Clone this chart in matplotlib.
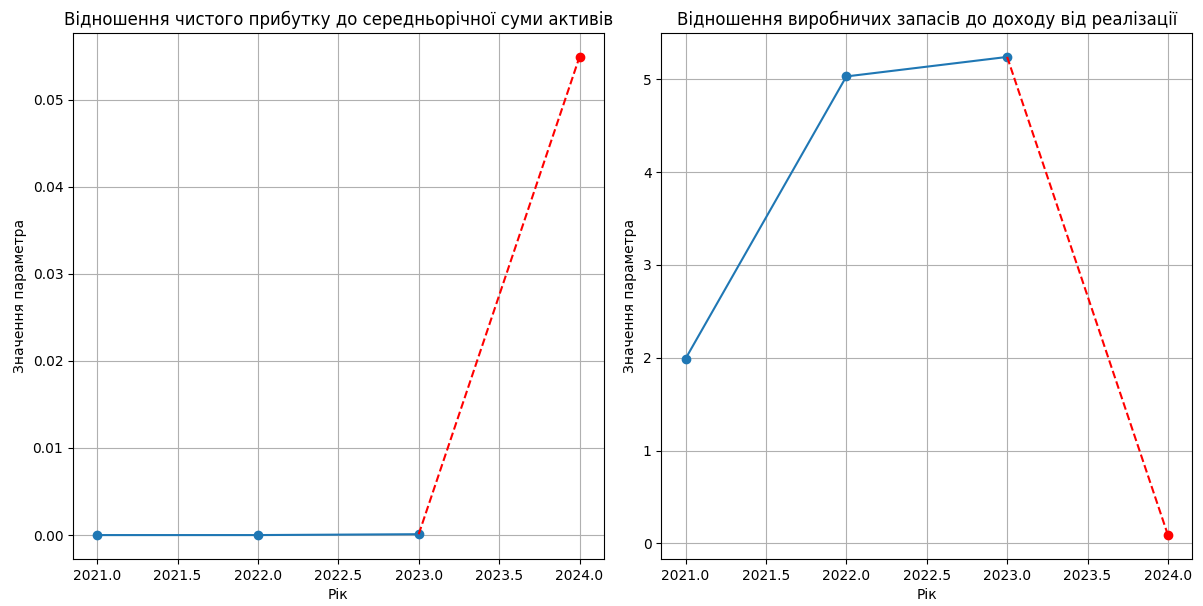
import matplotlib
matplotlib.use("Agg")
import matplotlib.pyplot as plt

years = [2021, 2022, 2023]
forecast_year = 2024

# Відношення чистого прибутку до середньорічної суми активів
profit_to_assets = [0.0, 0.0, 0.0001]
profit_to_assets_forecast = 0.0549

# Відношення виробничих запасів до доходу від реалізації
stock_to_revenue = [1.99, 5.03, 5.24]
stock_to_revenue_forecast = 0.09

titles = [
    "Відношення чистого прибутку до середньорічної суми активів",
    "Відношення виробничих запасів до доходу від реалізації",
]

fig, axes = plt.subplots(1, 2, figsize=(12.03, 6.06), dpi=100)
fig.subplots_adjust(left=0.0607, right=0.9909, top=0.9455, bottom=0.0776,
                    wspace=0.109)

for ax, title, hist, fc in zip(
    axes, titles,
    [profit_to_assets, stock_to_revenue],
    [profit_to_assets_forecast, stock_to_revenue_forecast],
):
    ax.plot(years, hist, marker="o", color="tab:blue")
    ax.plot([years[-1], forecast_year], [hist[-1], fc], "r--")
    ax.plot([forecast_year], [fc], "ro")
    ax.set_title(title)
    ax.set_xlabel("Рік")
    ax.set_ylabel("Значення параметра")
    ax.grid(True)

fig.savefig("out.png", dpi=100)
